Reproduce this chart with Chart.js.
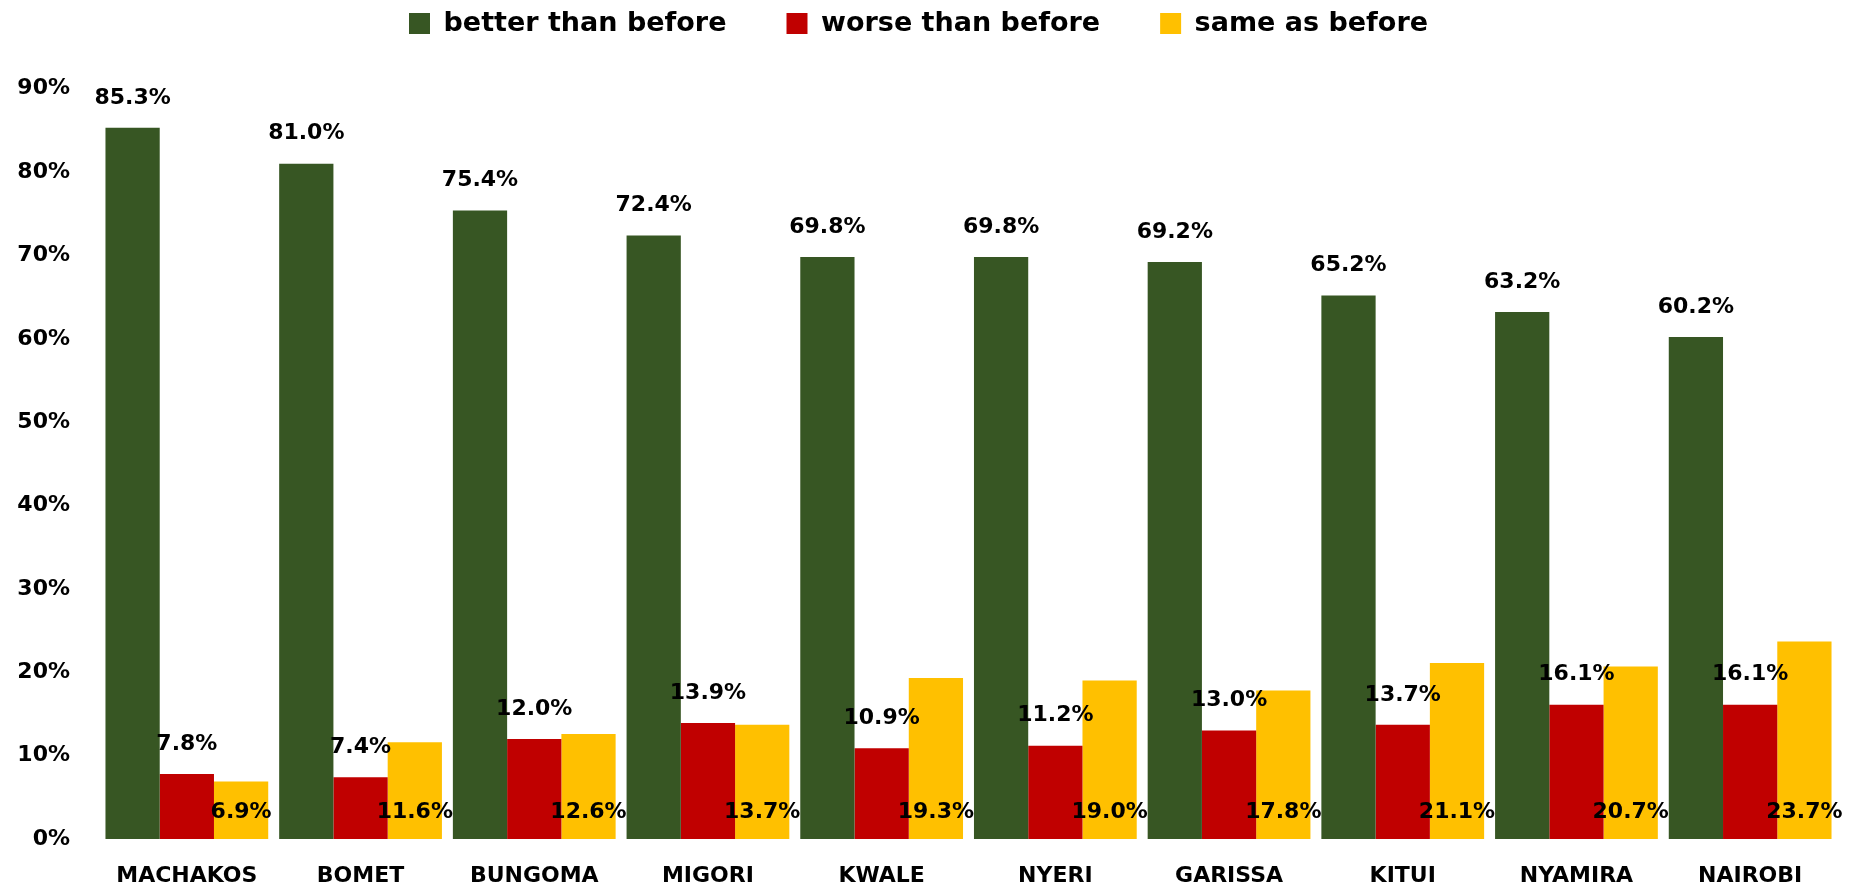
<!DOCTYPE html>
<html>
<head>
<meta charset="utf-8">
<script src="https://cdn.jsdelivr.net/npm/chart.js@4"></script>
<style>
  html, body { margin: 0; padding: 0; background: #fff; }
  #wrap { width: 1856px; height: 892px; }
</style>
</head>
<body>
<div id="wrap"><canvas id="chart" width="1856" height="892"></canvas></div>
<script>
var counties = ['MACHAKOS', 'BOMET', 'BUNGOMA', 'MIGORI', 'KWALE', 'NYERI', 'GARISSA', 'KITUI', 'NYAMIRA', 'NAIROBI'];
var better = [85.3, 81.0, 75.4, 72.4, 69.8, 69.8, 69.2, 65.2, 63.2, 60.2];
var worse = [7.8, 7.4, 12.0, 13.9, 10.9, 11.2, 13.0, 13.7, 16.1, 16.1];
var same = [6.9, 11.6, 12.6, 13.7, 19.3, 19.0, 17.8, 21.1, 20.7, 23.7];
var yTicks = [0, 10, 20, 30, 40, 50, 60, 70, 80, 90];

var FONT = "'DejaVu Sans', sans-serif";

// value labels: above the bar for the first two series, at the base for the third
var valueLabels = {
    id: 'valueLabels',
    afterDatasetsDraw: function (chart) {
        var ctx = chart.ctx;
        ctx.save();
        ctx.font = 'bold 22px ' + FONT;
        ctx.fillStyle = '#000';
        ctx.textAlign = 'center';
        ctx.textBaseline = 'middle';
        chart.data.datasets.forEach(function (ds, i) {
            var meta = chart.getDatasetMeta(i);
            meta.data.forEach(function (bar, j) {
                var txt = ds.data[j].toFixed(1) + '%';
                var y = i < 2 ? bar.y - 30 : bar.base - 27;
                ctx.fillText(txt, bar.x, y);
            });
        });
        ctx.restore();
    }
};

var ctx = document.getElementById('chart').getContext('2d');
var chart = new Chart(ctx, {
    type: 'bar',
    data: {
        labels: counties,
        datasets: [
            { label: 'better than before', data: better, backgroundColor: '#375623' },
            { label: 'worse than before', data: worse, backgroundColor: '#C00000' },
            { label: 'same as before', data: same, backgroundColor: '#FFC000' }
        ]
    },
    options: {
        responsive: false,
        animation: false,
        // legend padding also pads vertically, pull it back up
        layout: { padding: { left: 0, right: 19, top: -50, bottom: 0 } },
        datasets: { bar: { categoryPercentage: 0.937, barPercentage: 1.0 } },
        plugins: {
            legend: {
                position: 'top',
                labels: {
                    boxWidth: 21, boxHeight: 21, padding: 60,
                    color: '#000',
                    font: { family: FONT, size: 27, weight: 'bold' }
                }
            },
            tooltip: { enabled: false }
        },
        scales: {
            x: {
                grid: { display: false, drawTicks: false },
                border: { display: false },
                ticks: { color: '#000', padding: 24, font: { family: FONT, size: 22, weight: 'bold' } },
                afterFit: function (s) { s.height = 53; }
            },
            y: {
                min: 0, max: 95,
                grid: { display: false, drawTicks: false },
                border: { display: false },
                afterBuildTicks: function (s) { s.ticks = yTicks.map(function (v) { return { value: v }; }); },
                ticks: {
                    color: '#000', padding: 30,
                    font: { family: FONT, size: 22, weight: 'bold' },
                    callback: function (v) { return v + '%'; }
                },
                afterFit: function (s) { s.width = 100; }
            }
        }
    },
    plugins: [valueLabels]
});
</script>
</body>
</html>
